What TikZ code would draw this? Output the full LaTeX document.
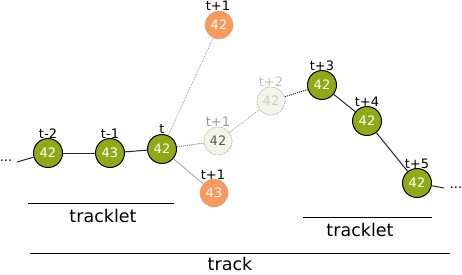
\documentclass[tikz,border=0pt]{standalone}
\usepackage{fontspec}
\setmainfont{DejaVu Sans}
\begin{document}
\begin{tikzpicture}[x=1pt,y=-1pt,
  green/.style={circle,draw=black,line width=1pt,fill=grn,minimum size=29pt,inner sep=0pt,text=white,font=\fontsize{13}{13}\selectfont},
  orange/.style={circle,draw=gray!70,densely dotted,line width=0.7pt,fill=org,minimum size=28pt,inner sep=0pt,text=white,font=\fontsize{13}{13}\selectfont},
  pale/.style={circle,draw=gray!70,densely dotted,line width=0.8pt,fill=pal,minimum size=28pt,inner sep=0pt,font=\fontsize{13}{13}\selectfont},
  lbl/.style={font=\fontsize{13}{13}\selectfont,inner sep=0pt},
  big/.style={font=\fontsize{17.5}{17.5}\selectfont,inner sep=0pt},
  solidc/.style={draw=black!85,line width=1pt},
  faint/.style={draw=gray!80,densely dotted,line width=0.8pt},
  medium/.style={draw=gray,densely dotted,line width=1pt},
  darkdot/.style={draw=black!75,densely dotted,line width=1.1pt}]
\definecolor{grn}{HTML}{8EAB17}
\definecolor{org}{HTML}{F99A5C}
\definecolor{pal}{HTML}{F3F5E6}
\useasboundingbox (0,0) rectangle (462,274);
% nodes
\node[green] (a) at (48,153) {42};
\node[green] (b) at (110,153) {43};
\node[green] (c) at (162,149) {42};
\node[orange] (o1) at (219,25) {42};
\node[pale,text=black!65] (p1) at (218,141) {42};
\node[orange] (o2) at (214,193) {43};
\node[pale,text=black!20] (p2) at (271,101) {42};
\node[green] (d) at (322,85) {42};
\node[green] (e) at (367,121) {42};
\node[green] (f) at (417,183) {42};
% labels
\node[lbl] (la) at (48,134) {t-2};
\node[lbl] (lb) at (110,134) {t-1};
\node[lbl] (lc) at (162,129) {t};
\node[lbl] (lo1) at (218,6) {t+1};
\node[lbl,text=black!40] (lp1) at (218,122) {t+1};
\node[lbl] (lo2) at (213,175) {t+1};
\node[lbl,text=black!25] (lp2) at (271,82) {t+2};
\node[lbl] (ld) at (322,66) {t+3};
\node[lbl] (le) at (367,102) {t+4};
\node[lbl] (lf) at (417,164) {t+5};
\node[lbl] (dl) at (6,161) {...};
\node[lbl] (dr) at (456,188) {...};
\coordinate (dlend) at (17,162);
\coordinate (drend) at (444,188);
% connectors
\draw[solidc] (dlend) -- (a);
\draw[solidc] (a) -- (b);
\draw[solidc] (b) -- (c);
\draw[faint] (c) -- (o1);
\draw[medium] (c) -- (p1);
\draw[draw=gray!80,line width=0.7pt] (c) -- (o2);
\draw[faint] (p1) -- (p2);
\draw[darkdot] (p2) -- (d);
\draw[solidc] (d) -- (e);
\draw[solidc] (e) -- (f);
\draw[solidc] (f) -- (drend);
% brackets
\coordinate (t1a) at (28,203); \coordinate (t1b) at (174,203);
\coordinate (t2a) at (303,217); \coordinate (t2b) at (432,217);
\coordinate (tra) at (30,253); \coordinate (trb) at (450,253);
\draw[line width=1pt] (t1a) -- (t1b);
\draw[line width=1pt] (t2a) -- (t2b);
\draw[line width=1pt] (tra) -- (trb);
\node[big,anchor=base] (tl1) at (103,222) {tracklet};
\node[big,anchor=base] (tl2) at (360,236) {tracklet};
\node[big,anchor=base] (tr) at (230,270.5) {track};
\end{tikzpicture}
\end{document}
